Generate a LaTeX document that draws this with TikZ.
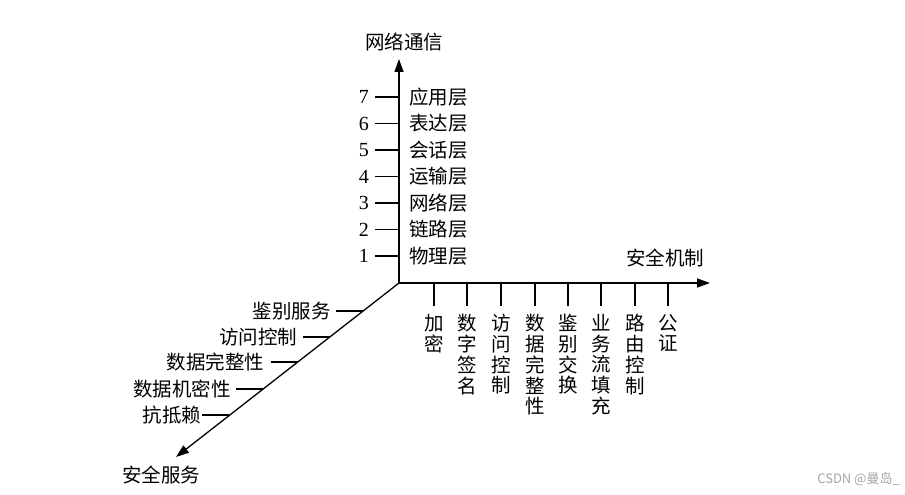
\documentclass[tikz,border=0pt]{standalone}
\usepackage{fontspec}
\setmainfont{Liberation Serif}
\newfontfamily\cjk{Noto Sans CJK SC}
\newfontfamily\wmfont{Noto Sans CJK SC}
\usetikzlibrary{arrows.meta}
\begin{document}
\begin{tikzpicture}[x=1pt,y=-1pt,
  axisline/.style={line width=1.3pt,-{Triangle[length=13pt,width=9pt]}},
  tickline/.style={line width=1.2pt},
  lbl/.style={font=\cjk\fontsize{19.5}{21}\selectfont,inner sep=0pt},
  numlbl/.style={font=\fontsize{20}{21}\selectfont,inner sep=0pt},
  vlbl/.style={font=\cjk\fontsize{19.5}{20.8}\selectfont,inner sep=0pt,align=center,anchor=north},
  wm/.style={font=\wmfont\fontsize{13}{14}\selectfont,text=black!35,inner sep=0pt}]
\useasboundingbox[fill=white] (0,0) rectangle (905,495);
% axes
\coordinate (O) at (399,283);
\coordinate (Ytip) at (399,59);
\coordinate (Xtip) at (710,283);
\coordinate (Ztip) at (176,457);
\draw[axisline] (O) -- (Ytip);
\draw[axisline] (O) -- (Xtip);
\draw[axisline] (O) -- (Ztip);
\node[lbl] (ytitle) at (404,42) {网络通信};
\node[lbl] (xtitle) at (665,258) {安全机制};
\node[lbl] (ztitle) at (161,475) {安全服务};
% vertical axis: layers
\foreach \name [count=\i] in {应用层,表达层,会话层,运输层,网络层,链路层,物理层}{
  \pgfmathsetmacro{\yy}{97+(\i-1)*26.5}
  \pgfmathtruncatemacro{\num}{8-\i}
  \node[numlbl,anchor=east] (n\i) at (369,\yy) {\num};
  \coordinate (va\i) at (375,\yy);
  \coordinate (vb\i) at (399,\yy);
  \draw[tickline] (va\i) -- (vb\i);
  \node[lbl,anchor=west] (l\i) at (409,\yy) {\name};
}
% horizontal axis: mechanisms
\foreach \xx/\txt [count=\i] in {434/加\\密,467/数\\字\\签\\名,501/访\\问\\控\\制,535/数\\据\\完\\整\\性,568/鉴\\别\\交\\换,601/业\\务\\流\\填\\充,635/路\\由\\控\\制,668/公\\证}{
  \coordinate (ha\i) at (\xx,283);
  \coordinate (hb\i) at (\xx,306);
  \draw[tickline] (ha\i) -- (hb\i);
  \node[vlbl] (m\i) at (\xx,314) {\txt};
}
% diagonal axis: services
\foreach \yy/\dx/\gap/\txt [count=\i] in {311/363.0/5/鉴别服务,337/329.6/5/访问控制,362/297.5/6/数据完整性,389/262.8/5/数据机密性,415/229.4/1/抗抵赖}{
  \coordinate (db\i) at (\dx,\yy);
  \coordinate (da\i) at (\dx-27,\yy);
  \draw[tickline] (da\i) -- (db\i);
  \node[lbl,anchor=east] (s\i) at (\dx-27-\gap,\yy) {\txt};
}
\node[wm,anchor=east] (wmark) at (900,479) {CSDN @曼岛\_};
\end{tikzpicture}
\end{document}
